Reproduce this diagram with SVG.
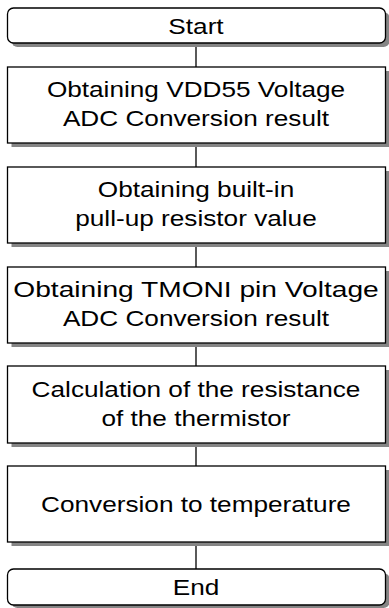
<svg xmlns="http://www.w3.org/2000/svg" width="389" height="608" viewBox="0 0 389 608">
<style>
.box{fill:#fff;stroke:#000;stroke-width:1.3}
.sh{fill:#858585}
.t{font-family:"Liberation Sans",Arial,sans-serif;font-size:22px;fill:#000;text-anchor:middle}
.c{stroke:#000;stroke-width:1.3;fill:none}
</style>
<rect width="389" height="608" fill="#fff"/>
<g id="connectors">
<line class="c" x1="196" y1="43" x2="196" y2="67"/>
<line class="c" x1="196" y1="143" x2="196" y2="167"/>
<line class="c" x1="196" y1="243" x2="196" y2="267"/>
<line class="c" x1="196" y1="343" x2="196" y2="366"/>
<line class="c" x1="196" y1="443" x2="196" y2="466"/>
<line class="c" x1="196" y1="542" x2="196" y2="569"/>
</g>
<g id="start">
<rect class="sh" x="11.5" y="12" width="378" height="35" rx="6"/>
<rect class="box" x="7.5" y="8" width="378" height="35" rx="6"/>
<text class="t" transform="translate(196 33.5) scale(1.19 1)">Start</text>
</g>
<g id="step1">
<rect class="sh" x="11.5" y="71" width="378" height="76"/>
<rect class="box" x="7.5" y="67" width="378" height="76"/>
<text class="t" transform="translate(196 97.3) scale(1.19 1)">Obtaining VDD55 Voltage</text>
<text class="t" transform="translate(196 126) scale(1.19 1)">ADC Conversion result</text>
</g>
<g id="step2">
<rect class="sh" x="11.5" y="171" width="378" height="76"/>
<rect class="box" x="7.5" y="167" width="378" height="76"/>
<text class="t" transform="translate(196 197.3) scale(1.19 1)">Obtaining built-in</text>
<text class="t" transform="translate(196 226) scale(1.19 1)">pull-up resistor value</text>
</g>
<g id="step3">
<rect class="sh" x="11.5" y="271" width="378" height="76"/>
<rect class="box" x="7.5" y="267" width="378" height="76"/>
<text class="t" transform="translate(196 297.3) scale(1.19 1)" textLength="307" lengthAdjust="spacingAndGlyphs">Obtaining TMONI pin Voltage</text>
<text class="t" transform="translate(196 326) scale(1.19 1)">ADC Conversion result</text>
</g>
<g id="step4">
<rect class="sh" x="11.5" y="370" width="378" height="77"/>
<rect class="box" x="7.5" y="366" width="378" height="77"/>
<text class="t" transform="translate(196 396.5) scale(1.19 1)">Calculation of the resistance</text>
<text class="t" transform="translate(196 425.5) scale(1.19 1)">of the thermistor</text>
</g>
<g id="step5">
<rect class="sh" x="11.5" y="470" width="378" height="76"/>
<rect class="box" x="7.5" y="466" width="378" height="76"/>
<text class="t" transform="translate(196 512) scale(1.19 1)">Conversion to temperature</text>
</g>
<g id="end">
<rect class="sh" x="11.5" y="573" width="378" height="35" rx="6"/>
<rect class="box" x="7.5" y="569" width="378" height="36" rx="6"/>
<text class="t" transform="translate(196 595) scale(1.19 1)">End</text>
</g>
</svg>
